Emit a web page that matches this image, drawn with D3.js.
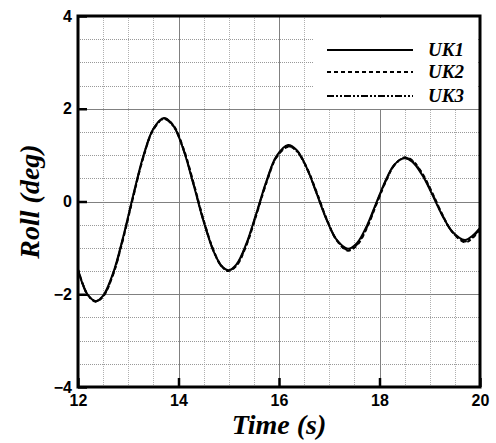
<!DOCTYPE html>
<html>
<head>
<meta charset="utf-8">
<script src="https://cdn.jsdelivr.net/npm/d3@7"></script>
<style>
  html, body { margin: 0; padding: 0; background: #fff; }
  svg { display: block; }
</style>
</head>
<body>
<svg id="chart" width="496" height="443"></svg>
<script>
// ---- data ----
const time = [12.0,12.1,12.2,12.35,12.5,12.7,12.9,13.1,13.3,13.5,13.71,13.9,14.1,14.3,14.5,14.7,14.85,14.99,15.15,15.35,15.55,15.75,15.95,16.18,16.35,16.55,16.75,16.95,17.15,17.37,17.55,17.75,17.95,18.15,18.3,18.49,18.65,18.85,19.05,19.25,19.45,19.7,19.85,20.0];
const uk1 = [-1.48,-1.80,-2.02,-2.15,-2.03,-1.54,-0.76,0.14,0.98,1.57,1.80,1.63,1.11,0.36,-0.43,-1.08,-1.38,-1.48,-1.36,-0.91,-0.25,0.44,0.98,1.22,1.11,0.73,0.17,-0.40,-0.83,-1.02,-0.90,-0.52,0.01,0.52,0.80,0.93,0.86,0.57,0.15,-0.30,-0.65,-0.83,-0.74,-0.57];
const uk2 = [-1.46,-1.79,-2.02,-2.16,-2.05,-1.57,-0.80,0.10,0.95,1.55,1.79,1.64,1.14,0.40,-0.40,-1.06,-1.38,-1.50,-1.39,-0.95,-0.29,0.40,0.95,1.18,1.10,0.74,0.20,-0.38,-0.84,-1.06,-0.95,-0.57,-0.03,0.49,0.79,0.95,0.89,0.61,0.19,-0.28,-0.66,-0.88,-0.79,-0.60];
const uk3 = [-1.47,-1.80,-2.03,-2.15,-2.04,-1.56,-0.78,0.12,0.96,1.56,1.78,1.62,1.12,0.38,-0.42,-1.07,-1.39,-1.49,-1.38,-0.93,-0.27,0.42,0.96,1.19,1.09,0.72,0.18,-0.39,-0.83,-1.05,-0.93,-0.55,-0.01,0.50,0.79,0.94,0.88,0.59,0.17,-0.29,-0.66,-0.86,-0.77,-0.58];
const seriesNames = ["UK1","UK2","UK3"];
const xTicks = [12,14,16,18,20];
const yTicks = [-4,-2,0,2,4];
const xMinor = [12.5,13,13.5,14.5,15,15.5,16.5,17,17.5,18.5,19,19.5];
const yMinor = [-3.5,-3,-2.5,-1.5,-1,-0.5,0.5,1,1.5,2.5,3,3.5];

// ---- layout ----
const W = 496, H = 443;
const m = {left: 78, right: 16, top: 16, bottom: 56};
const svg = d3.select("#chart");
const x = d3.scaleLinear().domain([12,20]).range([m.left, W - m.right]);
const y = d3.scaleLinear().domain([-4,4]).range([H - m.bottom, m.top]);

const g = svg.append("g");

// minor grid
g.selectAll(".vminor").data(xMinor).join("line")
  .attr("x1", d => Math.round(x(d)) + 0.5).attr("x2", d => Math.round(x(d)) + 0.5)
  .attr("y1", y(-4)).attr("y2", y(4))
  .attr("stroke", "#b0b0b0").attr("stroke-width", 1).attr("stroke-dasharray", "1,1");
g.selectAll(".hminor").data(yMinor).join("line")
  .attr("x1", x(12)).attr("x2", x(20))
  .attr("y1", d => Math.round(y(d)) + 0.5).attr("y2", d => Math.round(y(d)) + 0.5)
  .attr("stroke", "#999").attr("stroke-width", 1).attr("stroke-dasharray", "1,1");
// major grid
g.selectAll(".vmajor").data(xTicks.slice(1, -1)).join("line")
  .attr("x1", d => Math.round(x(d)) + 0.5).attr("x2", d => Math.round(x(d)) + 0.5)
  .attr("y1", y(-4)).attr("y2", y(4))
  .attr("stroke", "#808080").attr("stroke-width", 1);
g.selectAll(".hmajor").data(yTicks.slice(1, -1)).join("line")
  .attr("x1", x(12)).attr("x2", x(20))
  .attr("y1", d => Math.round(y(d)) + 0.5).attr("y2", d => Math.round(y(d)) + 0.5)
  .attr("stroke", "#808080").attr("stroke-width", 1);

// legend background
const lg = svg.append("g");
lg.append("rect").attr("x", 313).attr("y", 18).attr("width", 165).attr("height", 91).attr("fill", "#fff");

// curves
const dashes = [null, "4,3", "7,2,2,2,2,2"];
const allSeries = [uk1, uk2, uk3];
const line = d3.line().x(d => x(d[0])).y(d => y(d[1])).curve(d3.curveCatmullRom.alpha(0.5));
allSeries.forEach((s, i) => {
  svg.append("path")
    .datum(time.map((t, k) => [t, s[k]]))
    .attr("d", line)
    .attr("fill", "none")
    .attr("stroke", "#000")
    .attr("stroke-width", 2)
    .attr("stroke-dasharray", dashes[i]);
});

// frame
svg.append("rect")
  .attr("x", x(12)).attr("y", y(4))
  .attr("width", x(20) - x(12)).attr("height", y(-4) - y(4))
  .attr("fill", "none").attr("stroke", "#000").attr("stroke-width", 3);

// axes (ticks inside)
const xAxis = d3.axisBottom(x).tickValues(xTicks).tickSize(-9).tickPadding(8).tickFormat(d3.format("d"));
const gx = svg.append("g").attr("transform", `translate(0,${y(-4)})`).call(xAxis);
const yAxis = d3.axisLeft(y).tickValues(yTicks).tickSize(-9).tickPadding(6).tickFormat(d3.format("d"));
const gy = svg.append("g").attr("transform", `translate(${x(12)},0)`).call(yAxis);
[gx, gy].forEach(a => {
  a.select(".domain").remove();
  a.selectAll(".tick line").attr("stroke", "#000").attr("stroke-width", 2.5);
  a.selectAll("text").attr("fill", "#000")
    .style("font-family", "'Liberation Sans', Arial, sans-serif")
    .style("font-weight", "bold").style("font-size", "16px");
});

// axis titles
svg.append("text").attr("x", (x(12) + x(20)) / 2).attr("y", 434)
  .attr("text-anchor", "middle")
  .style("font-family", "'Liberation Serif', 'Times New Roman', serif")
  .style("font-weight", "bold").style("font-style", "italic").style("font-size", "28px")
  .text("Time (s)");
svg.append("text").attr("transform", `translate(39,${(y(4) + y(-4)) / 2}) rotate(-90)`)
  .attr("text-anchor", "middle")
  .style("font-family", "'Liberation Serif', 'Times New Roman', serif")
  .style("font-weight", "bold").style("font-style", "italic").style("font-size", "28px")
  .text("Roll (deg)");

// legend
const legY = [50, 72, 96];
seriesNames.forEach((n, i) => {
  lg.append("line").attr("x1", 327).attr("x2", 413).attr("y1", legY[i]).attr("y2", legY[i])
    .attr("stroke", "#000").attr("stroke-width", 2).attr("stroke-dasharray", dashes[i]);
  lg.append("text").attr("x", 428).attr("y", legY[i] + 6)
    .style("font-family", "'Liberation Serif', 'Times New Roman', serif")
    .style("font-weight", "bold").style("font-style", "italic").style("font-size", "19px")
    .text(n);
});
</script>
</body>
</html>
